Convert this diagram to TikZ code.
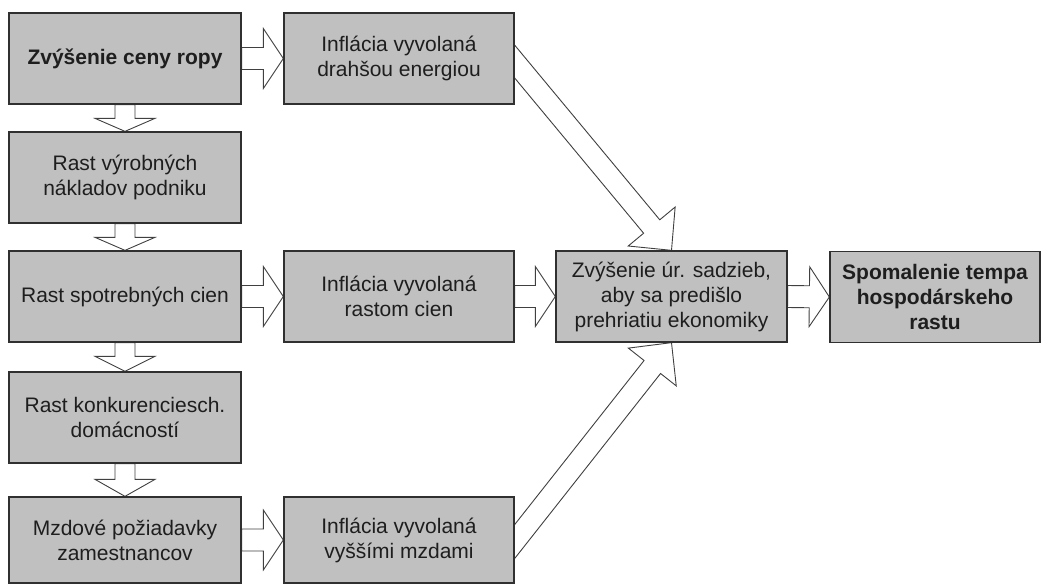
\documentclass[tikz,border=0pt]{standalone}
\usepackage{fontspec}
\setmainfont{Liberation Sans}
\usetikzlibrary{calc,backgrounds}
\definecolor{boxfill}{HTML}{C0C0C0}
\definecolor{boxline}{HTML}{303030}
\definecolor{txt}{HTML}{1E1E1E}
\definecolor{arrline}{HTML}{404040}
\newcommand\blkarrow[5]{%
  \coordinate (hb) at ($(#2)!#5!(#1)$);
  \draw[blk] ($(#1)!#3!90:(#2)$) -- ($(hb)!#3!90:(#2)$) -- ($(hb)!#4!90:(#2)$)
    -- (#2) -- ($(hb)!#4!-90:(#2)$) -- ($(hb)!#3!-90:(#2)$) -- ($(#1)!#3!-90:(#2)$) -- cycle;}
\begin{document}
\begin{tikzpicture}[x=1pt,y=-1pt,
  box/.style={draw=boxline,line width=1.3pt,fill=boxfill,text=txt,align=center,
    inner sep=0pt,minimum height=91pt,font=\fontsize{21}{25}\selectfont},
  blk/.style={draw=arrline,line width=0.9pt,fill=white,line join=miter}]
\useasboundingbox (0,0) rectangle (1049,584);
% left column
\node[box,minimum width=232pt,font=\fontsize{21}{25}\selectfont\bfseries] (b1) at (125,58.5) {Zvýšenie ceny ropy};
\node[box,minimum width=232pt] (r2) at (125,177.5) {Rast výrobných\\nákladov podniku};
\node[box,minimum width=232pt] (r3) at (125,296.5) {Rast spotrebných cien};
\node[box,minimum width=232pt] (r4) at (125,417.5) {Rast konkurenciesch.\\domácností};
\node[box,minimum width=232pt,minimum height=86pt] (r5) at (125,540) {Mzdové požiadavky\\zamestnancov};
% middle column
\node[box,minimum width=230pt] (b2) at (399,58.5) {Inflácia vyvolaná\\drahšou energiou};
\node[box,minimum width=230pt] (m3) at (399,296.5) {Inflácia vyvolaná\\rastom cien};
\node[box,minimum width=230pt,minimum height=86pt] (m5) at (399,540) {Inflácia vyvolaná\\vyššími mzdami};
% right
\node[box,minimum width=231pt] (c) at (671.5,296.5) {Zvýšenie úr. sadzieb,\\aby sa predišlo\\prehriatiu ekonomiky};
\node[box,minimum width=210pt,font=\fontsize{21}{25}\selectfont\bfseries] (f) at (935,297) {Spomalenie tempa\\hospodárskeho\\rastu};
% free ends of the diagonal arrows (hidden behind boxes)
\coordinate (t1) at (498,41.5);
\coordinate (t2) at (500.5,559.5);
\begin{scope}[on background layer]
  \blkarrow{b1.east}{b2.west}{11pt}{30pt}{20pt}
  \blkarrow{r3.east}{m3.west}{11pt}{30pt}{20pt}
  \blkarrow{r5.east}{m5.west}{11pt}{30pt}{20pt}
  \blkarrow{m3.east}{c.west}{11pt}{30pt}{20pt}
  \blkarrow{c.east}{f.west}{11pt}{30pt}{20pt}
  \blkarrow{b1.south}{r2.north}{10pt}{30pt}{13pt}
  \blkarrow{r2.south}{r3.north}{10pt}{30pt}{13pt}
  \blkarrow{r3.south}{r4.north}{10pt}{30pt}{15pt}
  \blkarrow{r4.south}{r5.north}{10pt}{30pt}{17pt}
  \blkarrow{t1}{c.north}{10.5pt}{30.5pt}{31pt}
  \blkarrow{t2}{c.south}{10.5pt}{30.5pt}{31pt}
\end{scope}
\end{tikzpicture}
\end{document}
